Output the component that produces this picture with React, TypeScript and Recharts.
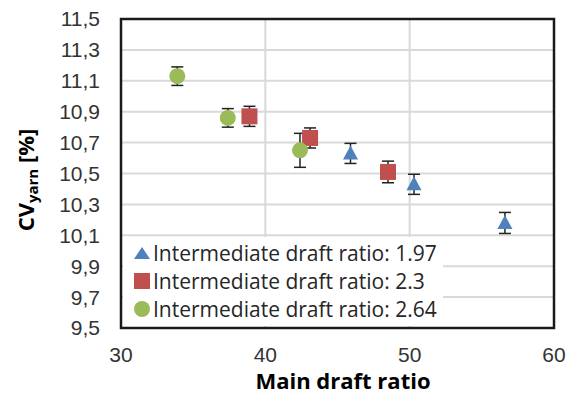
import React from 'react';
import {
  ScatterChart,
  Scatter,
  XAxis,
  YAxis,
  CartesianGrid,
  ErrorBar,
  ReferenceArea,
  Legend,
} from 'recharts';

const xTicks = [30, 40, 50, 60];
const yTicks = [9.5, 9.7, 9.9, 10.1, 10.3, 10.5, 10.7, 10.9, 11.1, 11.3, 11.5];

const seriesNames = [
  'Intermediate draft ratio: 1.97',
  'Intermediate draft ratio: 2.3',
  'Intermediate draft ratio: 2.64',
];
const seriesColors = ['#4F81BD', '#C0504D', '#9BBB59'];

const blueX = [45.9, 50.3, 56.6];
const blueY = [10.63, 10.43, 10.18];
const blueErr = [0.065, 0.065, 0.068];

const redX = [38.9, 43.1, 48.5];
const redY = [10.87, 10.73, 10.51];
const redErr = [0.065, 0.065, 0.07];

const greenX = [33.9, 37.4, 42.4];
const greenY = [11.13, 10.86, 10.65];
const greenErr = [0.06, 0.06, 0.11];

const toRows = (xs: number[], ys: number[], es: number[]) =>
  xs.map((x, i) => ({ x, y: ys[i], err: es[i] }));

const blueData = toRows(blueX, blueY, blueErr);
const redData = toRows(redX, redY, redErr);
const greenData = toRows(greenX, greenY, greenErr);

const TriangleShape = (props: any) => {
  const { cx, cy } = props;
  return (
    <polygon
      points={`${cx},${cy - 8} ${cx + 7.5},${cy + 6} ${cx - 7.5},${cy + 6}`}
      fill={seriesColors[0]}
    />
  );
};
const SquareShape = (props: any) => {
  const { cx, cy } = props;
  return <rect x={cx - 8} y={cy - 8} width={16} height={16} fill={seriesColors[1]} />;
};
const CircleShape = (props: any) => {
  const { cx, cy } = props;
  return <circle cx={cx} cy={cy} r={8} fill={seriesColors[2]} />;
};

const LegendMarker = ({ idx }: { idx: number }) => (
  <svg width={16} height={16} style={{ display: 'block', flex: 'none' }}>
    {idx === 0 && <polygon points="8,2 16,14 0,14" fill={seriesColors[0]} />}
    {idx === 1 && <rect x={0} y={0} width={16} height={16} fill={seriesColors[1]} />}
    {idx === 2 && <circle cx={8} cy={8} r={8} fill={seriesColors[2]} />}
  </svg>
);

const LegendContent = () => (
  <div style={{ paddingTop: 2 }}>
    {seriesNames.map((name, i) => (
      <div
        key={name}
        style={{
          display: 'flex',
          alignItems: 'center',
          height: 28,
          lineHeight: '28px',
          fontFamily: '"Open Sans", sans-serif',
          fontSize: 21,
          color: '#262626',
          whiteSpace: 'nowrap',
        }}
      >
        <div style={{ width: 11, flex: 'none' }} />
        <LegendMarker idx={i} />
        <span style={{ marginLeft: 3 }}>{name}</span>
      </div>
    ))}
  </div>
);

const XTitle = () => (
  <text
    x={343}
    y={389}
    textAnchor="middle"
    fontFamily='"Open Sans", sans-serif'
    fontWeight={700}
    fontSize={22}
    fill="#000"
  >
    Main draft ratio
  </text>
);

const YTitle = () => (
  <text
    x={34}
    y={180}
    transform="rotate(-90 34 180)"
    textAnchor="middle"
    fontFamily='"Open Sans", sans-serif'
    fontWeight={700}
    fontSize={22}
    fill="#000"
  >
    <tspan>CV</tspan>
    <tspan fontSize={15} dy={4}>yarn</tspan>
    <tspan dy={-4}> [%]</tspan>
  </text>
);

const tickStyle = { fontSize: 21, fill: '#333', fontFamily: '"Liberation Sans", Arial, sans-serif' };

export default function App() {
  return (
    <div style={{ position: 'absolute', left: 0, top: 0, width: 570, height: 397, background: '#fff' }}>
      <ScatterChart width={570} height={397} margin={{ top: 19, right: 16, bottom: 0, left: 0 }}>
        <CartesianGrid stroke="#D9D9D9" strokeWidth={2} />
        <XAxis
          type="number"
          dataKey="x"
          domain={[30, 60]}
          ticks={xTicks}
          height={69}
          axisLine={false}
          tickLine={false}
          tickSize={0}
          tickMargin={19}
          tick={tickStyle}
          allowDataOverflow
          label={<XTitle />}
        />
        <YAxis
          type="number"
          dataKey="y"
          domain={[9.5, 11.5]}
          ticks={yTicks}
          width={121}
          axisLine={false}
          tickLine={false}
          tickSize={0}
          tickMargin={21}
          tick={tickStyle}
          allowDataOverflow
          interval={0}
          tickFormatter={(v: number) => v.toFixed(1).replace('.', ',')}
          label={<YTitle />}
        />
        <ReferenceArea
          x1={30}
          x2={60}
          y1={9.5}
          y2={11.5}
          fill="none"
          stroke="#1a1a1a"
          strokeWidth={2.5}
          ifOverflow="visible"
        />
        <Scatter name={seriesNames[0]} data={blueData} shape={TriangleShape} isAnimationActive={false}>
          <ErrorBar dataKey="err" direction="y" width={6} stroke="#222" strokeWidth={1.5} isAnimationActive={false} />
        </Scatter>
        <Scatter name={seriesNames[1]} data={redData} shape={SquareShape} isAnimationActive={false}>
          <ErrorBar dataKey="err" direction="y" width={6} stroke="#222" strokeWidth={1.5} isAnimationActive={false} />
        </Scatter>
        <Scatter name={seriesNames[2]} data={greenData} shape={CircleShape} isAnimationActive={false}>
          <ErrorBar dataKey="err" direction="y" width={6} stroke="#222" strokeWidth={1.5} isAnimationActive={false} />
        </Scatter>
        <Legend
          layout="horizontal"
          verticalAlign="middle"
          align="center"
          content={<LegendContent />}
          wrapperStyle={{ left: 123, top: 237, width: 320, height: 89, background: '#fff' }}
        />
      </ScatterChart>
    </div>
  );
}
